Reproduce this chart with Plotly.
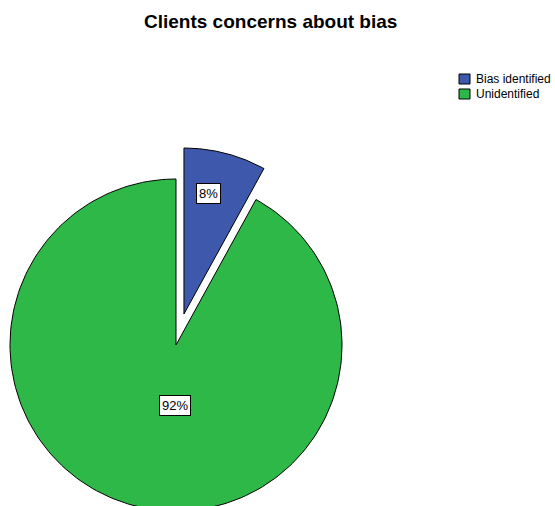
import numpy as np
import plotly.graph_objects as go

# Data
categories = ["Bias identified", "Unidentified"]
percentages = [8, 92]
colors = ["#3E58AC", "#2EB848"]
pulled = [True, False]

# Layout geometry (pixel space)
W, H = 555, 506
CX, CY = 176, 345          # pie centre
R = 166                    # pie radius
PULL = 32                  # explode offset for pulled slices
label_xy = [(208, 193), (175, 405)]

fig = go.Figure()

total = float(sum(percentages))
start = 0.0
for cat, val, col, pl, (lx, ly) in zip(categories, percentages, colors, pulled, label_xy):
    sweep = 360.0 * val / total
    a = np.radians(np.linspace(start, start + sweep, 200))
    mid = np.radians(start + sweep / 2)
    ox = PULL * np.sin(mid) if pl else 0.0
    oy = -PULL * np.cos(mid) if pl else 0.0
    cx, cy = CX + ox, CY + oy
    xs = np.concatenate([[cx], cx + R * np.sin(a), [cx]])
    ys = np.concatenate([[cy], cy - R * np.cos(a), [cy]])
    fig.add_trace(go.Scatter(
        x=xs, y=ys, mode="lines", fill="toself", fillcolor=col,
        line=dict(color="black", width=1), name=cat, showlegend=False,
        hoverinfo="skip",
    ))
    fig.add_annotation(
        x=lx, y=ly, xref="x", yref="y", text=f"{val}%", showarrow=False,
        font=dict(family="Liberation Sans, Arial", size=13, color="black"),
        bgcolor="white", bordercolor="black", borderwidth=1, borderpad=2,
    )
    start += sweep

# Legend drawn as boxes + text
for i, (cat, col) in enumerate(zip(categories, colors)):
    y0 = 74 + i * 15
    fig.add_shape(type="rect", xref="x", yref="y", x0=459, x1=470, y0=y0, y1=y0 + 10,
                  fillcolor=col, line=dict(color="black", width=1))
    fig.add_annotation(x=474, y=y0 + 5, xref="x", yref="y", text=cat, showarrow=False,
                       xanchor="left", yanchor="middle",
                       font=dict(family="Liberation Sans, Arial", size=12, color="black"))

fig.add_annotation(
    x=270, y=21, xref="x", yref="y", text="<b>Clients concerns about bias</b>",
    showarrow=False, xanchor="center", yanchor="middle",
    font=dict(family="Liberation Sans, Arial", size=19, color="black"),
)

fig.update_layout(
    width=W, height=H,
    margin=dict(l=0, r=0, t=0, b=0),
    paper_bgcolor="white", plot_bgcolor="white",
    xaxis=dict(range=[0, W], visible=False, fixedrange=True),
    yaxis=dict(range=[H, 0], visible=False, fixedrange=True),
    showlegend=False,
)

fig.write_html("out.html")
